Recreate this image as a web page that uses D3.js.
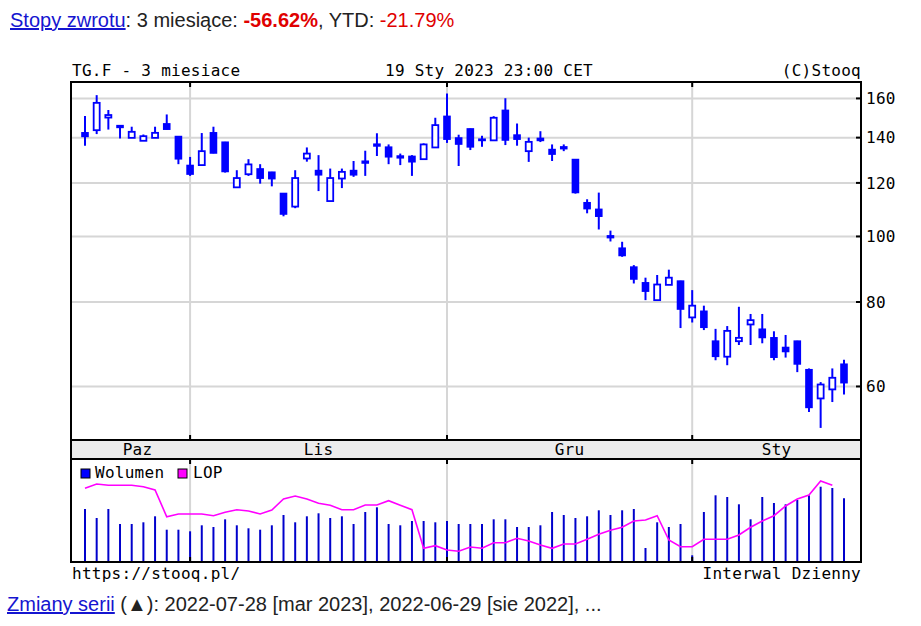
<!DOCTYPE html>
<html><head><meta charset="utf-8">
<script src="https://cdn.jsdelivr.net/npm/d3@7"></script>
<style>body{margin:0;background:#fff}svg{display:block}</style>
</head><body><svg id="c" width="921" height="626"></svg>
<script>
const dates = [
"2022-10-19","2022-10-20","2022-10-21","2022-10-24","2022-10-25","2022-10-26","2022-10-27","2022-10-28","2022-10-31",
"2022-11-01","2022-11-02","2022-11-03","2022-11-04","2022-11-07","2022-11-08","2022-11-09","2022-11-10","2022-11-11",
"2022-11-14","2022-11-15","2022-11-16","2022-11-17","2022-11-18","2022-11-21","2022-11-22","2022-11-23","2022-11-24",
"2022-11-25","2022-11-28","2022-11-29","2022-11-30",
"2022-12-01","2022-12-02","2022-12-05","2022-12-06","2022-12-07","2022-12-08","2022-12-09","2022-12-12","2022-12-13",
"2022-12-14","2022-12-15","2022-12-16","2022-12-19","2022-12-20","2022-12-21","2022-12-22","2022-12-23","2022-12-27",
"2022-12-28","2022-12-29","2022-12-30",
"2023-01-02","2023-01-03","2023-01-04","2023-01-05","2023-01-06","2023-01-09","2023-01-10","2023-01-11","2023-01-12",
"2023-01-13","2023-01-16","2023-01-17","2023-01-18","2023-01-19"];
const open  = [142.5,143.6,149.9,145.5,139.9,138.5,139.9,146.9,140.7,127.5,127.5,142.5,138.0,118.2,123.6,126.0,124.6,115.9,110.7,130.4,125.3,112.8,121.8,125.3,128.9,137.0,135.7,131.2,131.5,130.1,135.4,150.7,140.0,144.4,139.0,138.7,153.8,141.4,133.7,139.8,134.6,135.3,130.1,112.3,109.8,100.0,96.2,90.2,85.5,80.5,84.8,86.0,75.9,77.6,70.1,66.4,70.0,74.1,73.0,70.9,68.6,70.1,63.6,57.6,59.4,64.8];
const high  = [150.7,161.8,153.8,146.0,145.3,141.5,145.3,151.5,140.7,131.1,142.2,145.3,138.0,125.3,130.1,127.9,124.6,115.9,125.3,135.4,131.9,126.0,126.0,129.3,133.9,142.1,136.8,132.6,131.9,137.3,149.8,162.7,141.4,144.4,140.9,150.6,160.1,146.9,140.0,143.1,136.8,136.8,130.1,113.5,116.1,102.0,98.2,90.7,86.9,87.7,89.3,86.0,83.3,79.0,73.0,73.7,78.7,76.8,76.8,72.4,71.5,70.1,63.8,60.9,63.8,65.7];
const low   = [136.2,141.7,143.9,139.6,139.9,138.5,139.9,143.9,127.9,122.9,127.5,132.7,124.3,118.2,122.9,119.7,118.6,107.1,110.1,129.0,116.7,112.8,117.9,122.5,122.9,131.5,127.9,127.5,122.9,130.1,135.4,137.5,127.1,134.2,135.7,138.7,136.5,136.2,128.9,137.9,129.3,133.7,115.7,108.2,102.4,98.3,93.3,85.2,80.5,80.5,84.8,73.2,74.6,72.7,65.6,64.5,69.1,69.1,69.5,65.6,66.2,63.0,55.0,52.1,56.9,58.4];
const close = [140.4,157.6,151.2,145.3,142.8,140.7,142.3,143.9,130.1,123.5,133.7,132.7,124.6,122.0,127.8,121.8,121.6,107.8,122.0,132.6,123.2,122.0,124.6,123.2,128.7,136.0,131.0,131.0,128.8,136.8,146.1,139.1,136.8,135.5,139.2,149.8,138.7,139.1,138.0,138.5,132.2,135.2,116.0,109.8,107.0,99.8,93.6,86.4,82.9,84.9,86.9,78.0,79.0,73.3,66.4,72.5,70.8,75.2,70.8,66.2,67.5,64.7,55.8,60.4,61.8,60.7];
const volume = [520,430,520,370,370,387,447,313,313,297,357,340,417,357,327,313,357,460,387,447,477,430,447,370,490,537,370,357,400,400,387,400,370,370,370,417,417,340,340,357,490,460,430,447,507,460,507,520,130,387,340,370,57,490,657,640,567,417,640,580,567,610,657,743,730,627];
const lop = [727,770,757,757,757,743,710,443,470,470,470,453,487,513,500,470,510,620,650,620,577,557,513,513,560,560,603,557,513,127,153,110,97,140,127,183,183,227,200,160,127,170,170,217,267,307,337,400,410,453,210,143,143,217,217,217,260,337,400,453,550,620,660,800,757];
const monthLabels = ["Paz","Lis","Gru","Sty"];
const priceTicks = [60,80,100,120,140,160];

const BLUE = "#0000ff", VBLUE = "#0000cc", MAG = "#ff00ff", GRID = "#d6d6d6";
const MONO = "'DejaVu Sans Mono', monospace";
const SANS = "'Liberation Sans', Arial, sans-serif";
const L = 71, R = 861, T = 82, B = 440, SB = 459, VB = 562;

const svg = d3.select("#c");
const x = d3.scalePoint().domain(dates).range([85, 844]);
const y = d3.scaleLog().domain([50, 169.2]).range([B, T]);
const yv = d3.scaleLinear().domain([0, 1020]).range([VB - 1, SB]);
const yl = d3.scaleLinear().domain([0, 1020]).range([VB - 1, SB]);

const monthStarts = [0];
dates.forEach((d, i) => { if (i > 0 && d.slice(5, 7) !== dates[i - 1].slice(5, 7)) monthStarts.push(i); });

const mono = (sel) => sel.attr("font-family", MONO).attr("font-size", 16).attr("letter-spacing", 0.27).attr("fill", "#000");
mono(svg.append("text").attr("x", 72).attr("y", 76).text("TG.F - 3 miesiace"));
mono(svg.append("text").attr("x", 385).attr("y", 76).text("19 Sty 2023 23:00 CET"));
mono(svg.append("text").attr("x", 861).attr("y", 76).attr("text-anchor", "end").text("(C)Stooq"));
mono(svg.append("text").attr("x", 72).attr("y", 579).text("https://stooq.pl/"));
mono(svg.append("text").attr("x", 861).attr("y", 579).attr("text-anchor", "end").text("Interwal Dzienny"));

const topLine = svg.append("text").attr("x", 10).attr("y", 27).attr("font-family", SANS).attr("font-size", 20).attr("fill", "#222");
topLine.append("tspan").attr("fill", "#1515d0").attr("text-decoration", "underline").text("Stopy zwrotu");
topLine.append("tspan").text(": 3 miesiące: ");
topLine.append("tspan").attr("fill", "#e00000").attr("font-weight", "bold").text("-56.62%");
topLine.append("tspan").text(", YTD: ");
topLine.append("tspan").attr("fill", "#e00000").text("-21.79%");

const botLine = svg.append("text").attr("x", 7).attr("y", 611).attr("font-family", SANS).attr("font-size", 20).attr("fill", "#222");
botLine.append("tspan").attr("fill", "#1515d0").attr("text-decoration", "underline").text("Zmiany serii");
botLine.append("tspan").text(" (▲): 2022-07-28 [mar 2023], 2022-06-29 [sie 2022], ...");

svg.append("g").selectAll("line").data(priceTicks).join("line")
  .attr("x1", L).attr("x2", R).attr("y1", d => y(d)).attr("y2", d => y(d))
  .attr("stroke", GRID).attr("stroke-width", 2);
const vgrid = monthStarts.slice(1);
svg.append("g").selectAll("line").data(vgrid).join("line")
  .attr("x1", i => x(dates[i])).attr("x2", i => x(dates[i])).attr("y1", T).attr("y2", B)
  .attr("stroke", GRID).attr("stroke-width", 2);
svg.append("g").selectAll("line").data(vgrid).join("line")
  .attr("x1", i => x(dates[i])).attr("x2", i => x(dates[i])).attr("y1", SB).attr("y2", VB)
  .attr("stroke", GRID).attr("stroke-width", 2);

svg.append("g").selectAll("line").data(volume).join("line")
  .attr("x1", (d, i) => x(dates[i])).attr("x2", (d, i) => x(dates[i]))
  .attr("y1", yv(0)).attr("y2", d => yv(d))
  .attr("stroke", VBLUE).attr("stroke-width", 2);

svg.append("path").datum(lop)
  .attr("d", d3.line().x((d, i) => x(dates[i])).y(d => yl(d)))
  .attr("fill", "none").attr("stroke", MAG).attr("stroke-width", 1.6);

const cg = svg.append("g").selectAll("g").data(dates).join("g");
cg.append("line")
  .attr("x1", d => x(d)).attr("x2", d => x(d))
  .attr("y1", (d, i) => y(high[i])).attr("y2", (d, i) => y(low[i]))
  .attr("stroke", BLUE).attr("stroke-width", 2);
cg.each(function (d, i) {
  const cx = x(d);
  const up = close[i] > open[i];
  const t = y(Math.max(open[i], close[i])), b = y(Math.min(open[i], close[i]));
  const s = d3.select(this);
  if (up) {
    s.append("rect").attr("x", cx - 3).attr("y", t).attr("width", 6).attr("height", Math.max(b - t, 1))
      .attr("fill", "#fff").attr("stroke", BLUE).attr("stroke-width", 1.8);
  } else {
    const h = Math.max(b - t, 2.5);
    s.append("rect").attr("x", cx - 3.8).attr("y", (t + b) / 2 - h / 2 - 0.4).attr("width", 7.6).attr("height", h + 0.8)
      .attr("fill", BLUE);
  }
});

svg.append("rect").attr("x", L).attr("y", T).attr("width", R - L).attr("height", B - T).attr("fill", "none").attr("stroke", "#000").attr("stroke-width", 2);
svg.append("rect").attr("x", L).attr("y", B).attr("width", R - L).attr("height", SB - B).attr("fill", "#ececec").attr("stroke", "#000").attr("stroke-width", 2);
svg.append("rect").attr("x", L).attr("y", SB).attr("width", R - L).attr("height", VB - SB).attr("fill", "none").attr("stroke", "#000").attr("stroke-width", 2);

const tk = svg.append("g").attr("stroke", "#000").attr("stroke-width", 2);
tk.selectAll("line").data(priceTicks).join("line")
  .attr("x1", R - 5).attr("x2", R).attr("y1", d => y(d)).attr("y2", d => y(d));
vgrid.forEach(i => {
  const cx = x(dates[i]);
  [[T, T + 5], [B - 5, B], [SB, SB + 5], [VB - 5, VB]].forEach(([a, b2]) =>
    tk.append("line").attr("x1", cx).attr("x2", cx).attr("y1", a).attr("y2", b2));
});

svg.append("g").selectAll("text").data(priceTicks).join("text")
  .attr("x", R + 5).attr("y", d => y(d)).attr("dy", "0.35em")
  .attr("font-family", MONO).attr("font-size", 16).attr("letter-spacing", 0.27).text(d => d);

svg.append("g").selectAll("text").data(monthLabels).join("text")
  .attr("x", (m, k) => {
    const a = x(dates[monthStarts[k]]);
    const b2 = k + 1 < monthStarts.length ? x(dates[monthStarts[k + 1]]) : R;
    return (a + b2) / 2;
  })
  .attr("y", 455).attr("text-anchor", "middle")
  .attr("font-family", MONO).attr("font-size", 16).attr("letter-spacing", 0.27).text(d => d);

const lg = svg.append("g");
lg.append("rect").attr("x", 81).attr("y", 469).attr("width", 9).attr("height", 9).attr("fill", "#0000ff").attr("stroke", "#000").attr("stroke-width", 1);
mono(lg.append("text").attr("x", 95).attr("y", 478).text("Wolumen"));
lg.append("rect").attr("x", 178).attr("y", 469).attr("width", 9).attr("height", 9).attr("fill", MAG).attr("stroke", "#000").attr("stroke-width", 1);
mono(lg.append("text").attr("x", 193).attr("y", 478).text("LOP"));
</script>
</body></html>
